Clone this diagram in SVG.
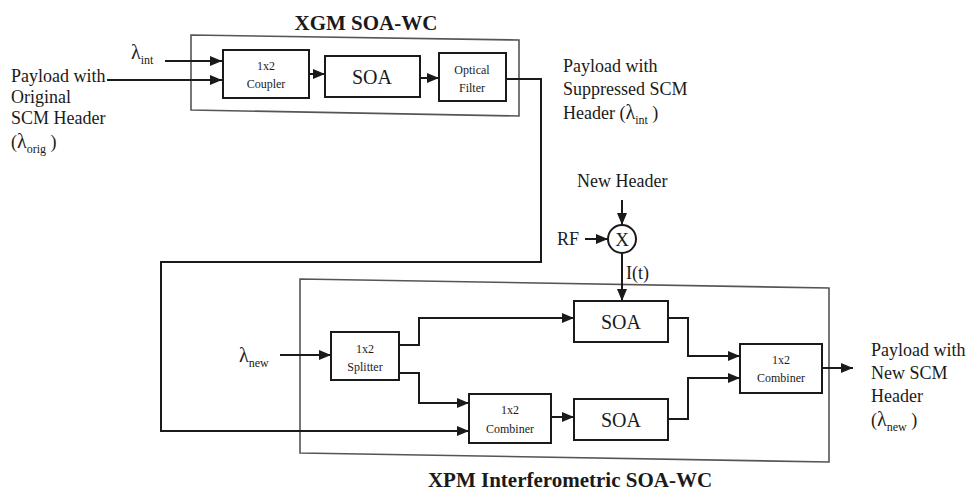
<svg xmlns="http://www.w3.org/2000/svg" width="973" height="494" viewBox="0 0 973 494">
<defs>
<marker id="ah" markerUnits="userSpaceOnUse" markerWidth="12" markerHeight="10" refX="12" refY="5" orient="auto">
<path d="M0,0 L12,5 L0,10 z" fill="#1a1a1a"/>
</marker>
<style>
text{font-family:"Liberation Serif","Times New Roman",serif;fill:#1a1a1a}
.t{font-size:18px}
.title{font-size:21px;font-weight:bold}
.sub{font-size:12px}
.lam{font-size:20px}
.sm{font-size:12px;text-anchor:middle}
.soa{font-size:20px;text-anchor:middle}
.blk{fill:#fff;stroke:#1a1a1a;stroke-width:2}
.outer{fill:none;stroke:#555;stroke-width:1.6}
.ln{fill:none;stroke:#1a1a1a;stroke-width:2}
.ar{marker-end:url(#ah)}
</style>
</defs>
<rect width="973" height="494" fill="#fff"/>

<g id="xgm">
<polygon class="outer" points="191,35 519,40 519,116 191,110"/>
<text class="title" x="366" y="30" text-anchor="middle">XGM SOA-WC</text>
</g>
<g id="xpm">
<polygon class="outer" points="300,279 829,288 829,462 300,453"/>
<text class="title" x="570" y="487" text-anchor="middle">XPM Interferometric SOA-WC</text>
</g>

<g id="coupler">
<rect class="blk" x="223" y="50" width="86" height="48"/>
<text class="sm" x="266" y="70">1x2</text>
<text class="sm" x="266" y="88">Coupler</text>
</g>
<g id="soa1">
<rect class="blk" x="325" y="56" width="95" height="41"/>
<text class="soa" x="372" y="84">SOA</text>
</g>
<g id="filter">
<rect class="blk" x="439" y="53" width="67" height="48"/>
<text class="sm" x="472" y="74">Optical</text>
<text class="sm" x="472" y="92">Filter</text>
</g>

<g id="mixer">
<circle cx="622" cy="239" r="14" fill="#fff" stroke="#1a1a1a" stroke-width="2"/>
<text x="622" y="246" font-size="19" text-anchor="middle">X</text>
</g>

<g id="splitter">
<rect class="blk" x="331" y="332" width="68" height="48"/>
<text class="sm" x="365" y="353" font-size="13">1x2</text>
<text class="sm" x="365" y="371" font-size="13">Splitter</text>
</g>
<g id="combiner1">
<rect class="blk" x="469" y="394" width="82" height="49"/>
<text class="sm" x="510" y="414" font-size="13">1x2</text>
<text class="sm" x="510" y="433" font-size="13">Combiner</text>
</g>
<g id="soa2">
<rect class="blk" x="574" y="301" width="94" height="41"/>
<text class="soa" x="621" y="329">SOA</text>
</g>
<g id="soa3">
<rect class="blk" x="574" y="399" width="94" height="41"/>
<text class="soa" x="621" y="427">SOA</text>
</g>
<g id="combiner2">
<rect class="blk" x="740" y="344" width="82" height="49"/>
<text class="sm" x="781" y="364">1x2</text>
<text class="sm" x="781" y="382">Combiner</text>
</g>

<g id="labels">
<text class="t" x="11" y="82">Payload with</text>
<text class="t" x="11" y="103">Original</text>
<text class="t" x="11" y="124">SCM Header</text>
<text class="t" x="11" y="148">(<tspan class="lam">λ</tspan><tspan class="sub" dy="5">orig</tspan><tspan dy="-5"> )</tspan></text>

<text x="131" y="59"><tspan class="lam" font-size="22">λ</tspan><tspan class="sub" dy="5">int</tspan></text>

<text class="t" x="563" y="72">Payload with</text>
<text class="t" x="563" y="95">Suppressed SCM</text>
<text class="t" x="563" y="119">Header  (<tspan class="lam">λ</tspan><tspan class="sub" dy="5">int</tspan><tspan dy="-5"> )</tspan></text>

<text class="t" x="577" y="187">New Header</text>
<text class="t" x="557" y="245">RF</text>
<text class="t" x="626" y="279">I(t)</text>

<text x="239" y="362"><tspan class="lam" font-size="22">λ</tspan><tspan class="sub" dy="5">new</tspan></text>

<text class="t" x="871" y="356">Payload with</text>
<text class="t" x="871" y="379">New SCM</text>
<text class="t" x="871" y="402">Header</text>
<text class="t" x="871" y="426">(<tspan class="lam">λ</tspan><tspan class="sub" dy="5">new</tspan><tspan dy="-5"> )</tspan></text>
</g>

<g id="connectors">
<path class="ln ar" d="M165,61 H222"/>
<path class="ln ar" d="M107,80 H222"/>
<path class="ln ar" d="M309,74 H325"/>
<path class="ln ar" d="M420,78 H439"/>
<path class="ln ar" d="M506,79 H541 V262 H161 V431 H469"/>
<path class="ln ar" d="M622,200 V225"/>
<path class="ln ar" d="M585,239 H608"/>
<path class="ln ar" d="M622,253 V301"/>
<path class="ln ar" d="M280,355 H331"/>
<path class="ln ar" d="M399,345 H419 V318 H574"/>
<path class="ln ar" d="M399,373 H419 V403 H469"/>
<path class="ln ar" d="M551,417 H574"/>
<path class="ln ar" d="M668,318 H688 V356 H740"/>
<path class="ln ar" d="M668,419 H688 V378 H740"/>
<path class="ln ar" d="M822,368 H853"/>
</g>
</svg>
